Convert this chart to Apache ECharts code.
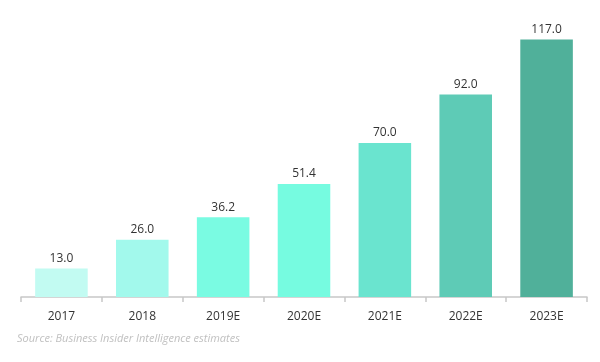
<!DOCTYPE html>
<html><head><meta charset="utf-8">
<script src="https://cdn.jsdelivr.net/npm/echarts@6/dist/echarts.min.js"></script>
<style>html,body{margin:0;padding:0;background:#fff}#c{width:600px;height:362px}</style>
</head><body><div id="c"></div>
<script>
var categories = ['2017','2018','2019E','2020E','2021E','2022E','2023E'];
var values = [13.0, 26.0, 36.2, 51.4, 70.0, 92.0, 117.0];
var barColors = ['#c2fbf2','#a2f9ec','#7afbe2','#76fbe0','#6ae4cf','#5ecbb6','#50b09a'];
var sourceText = 'Source: Business Insider Intelligence estimates';

var chart = echarts.init(document.getElementById('c'), null, {renderer:'canvas'});
chart.setOption({
  animation:false,
  textStyle:{fontFamily:'Open Sans'},
  grid:{left:21,right:13,top:33,bottom:65,containLabel:false},
  xAxis:{type:'category',data:categories,
    axisLine:{lineStyle:{color:'#c8c8c8',width:1.5}},
    axisTick:{show:true,length:5,lineStyle:{color:'#c8c8c8',width:1.5}},
    axisLabel:{color:'#333',fontSize:12,margin:14,fontFamily:'Open Sans'}},
  yAxis:{type:'value',min:0,max:120,show:false,splitLine:{show:false}},
  series:[{type:'bar',barWidth:'65%',
    data:values.map(function(v,i){return {value:v,itemStyle:{color:barColors[i]}};}),
    label:{show:true,position:'top',distance:4,color:'#333',fontSize:12,fontFamily:'Open Sans',
      formatter:function(p){return p.value.toFixed(1);}}}],
  graphic:[{type:'text',left:17,top:333,style:{text:sourceText,fill:'#c0c0c0',
    font:'italic 11px "Open Sans"'}}]
});
</script></body></html>
